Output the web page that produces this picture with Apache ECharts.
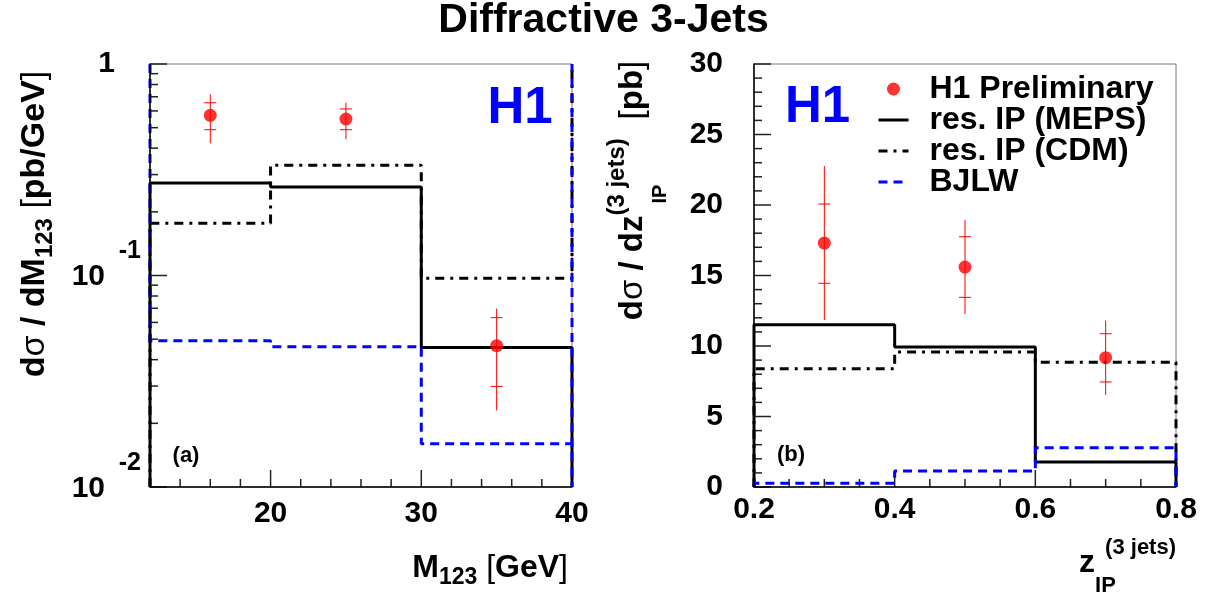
<!DOCTYPE html>
<html>
<head>
<meta charset="utf-8">
<script src="https://cdn.jsdelivr.net/npm/echarts@6/dist/echarts.min.js"></script>
<style>
html,body{margin:0;padding:0;background:#fff;}
#chart{width:1207px;height:601px;}
</style>
</head>
<body>
<div id="chart"></div>
<script>
// ---------------- data: panel (a) M123 ----------------
const mEdges = [12, 20, 30, 40];
const mMEPS = [0.274, 0.262, 0.0457];
const mCDM = [0.1765, 0.332, 0.097];
const mBJLW = [0.0492, 0.0461, 0.016];
const mX = [16, 25, 35];
const mVal = [0.572, 0.5495, 0.0466];
const mStatLo = [0.489, 0.489, 0.0299];
const mStatHi = [0.656, 0.613, 0.0632];
const mTotLo = [0.422, 0.4406, 0.0230];
const mTotHi = [0.719, 0.656, 0.0697];
// tick values, panel (a)
const mXMajor = [20, 30, 40];
const mXMinor = [14, 16, 18, 22, 24, 26, 28, 32, 34, 36, 38];
const mYMajor = [0.01, 0.1, 1];
const mYMinor = [0.02, 0.03, 0.04, 0.05, 0.06, 0.07, 0.08, 0.09, 0.2, 0.3, 0.4, 0.5, 0.6, 0.7, 0.8, 0.9];

// ---------------- data: panel (b) zIP ----------------
const zEdges = [0.2, 0.4, 0.6, 0.8];
const zMEPS = [11.51, 9.93, 1.77];
const zCDM = [8.39, 9.57, 8.84];
const zBJLW = [0.26, 1.13, 2.79];
const zX = [0.3, 0.5, 0.7];
const zVal = [17.3, 15.6, 9.17];
const zStatLo = [14.45, 13.45, 7.45];
const zStatHi = [20.07, 17.75, 10.87];
const zTotLo = [11.84, 12.25, 6.52];
const zTotHi = [22.77, 18.94, 11.8];
// tick values, panel (b)
const zXMajor = [0.2, 0.4, 0.6, 0.8];
const zXMinor = [0.25, 0.3, 0.35, 0.45, 0.5, 0.55, 0.65, 0.7, 0.75];
const zYMajor = [0, 5, 10, 15, 20, 25, 30];
const zYMinor = [1, 2, 3, 4, 6, 7, 8, 9, 11, 12, 13, 14, 16, 17, 18, 19, 21, 22, 23, 24, 26, 27, 28, 29];

const names = ['H1 Preliminary', 'res. IP (MEPS)', 'res. IP (CDM)', 'BJLW'];

const F = "'Liberation Sans', Arial, Helvetica, sans-serif";
const RED = '#ff0000', BLUE = '#0000ff', BLACK = '#000000';

function hist(edges, vals, start, ends) {
  const d = [[edges[0], start]];
  for (let i = 0; i < vals.length; i++) {
    d.push([edges[i], vals[i]]);
    d.push([edges[i + 1], vals[i]]);
  }
  ends.forEach(e => d.push([edges[edges.length - 1], e]));
  return d;
}
function errData(x, lo, hi, slo, shi) {
  return x.map((v, i) => [v, lo[i], hi[i], slo[i], shi[i]]);
}
function renderErr(params, api) {
  const x = api.value(0);
  const a = api.coord([x, api.value(1)]);
  const b = api.coord([x, api.value(2)]);
  const s1 = api.coord([x, api.value(3)]);
  const s2 = api.coord([x, api.value(4)]);
  const hw = 6;
  const st = {stroke: RED, lineWidth: 1};
  return {type: 'group', children: [
    {type: 'line', shape: {x1: a[0], y1: a[1], x2: b[0], y2: b[1]}, style: st},
    {type: 'line', shape: {x1: s1[0] - hw, y1: s1[1], x2: s1[0] + hw, y2: s1[1]}, style: st},
    {type: 'line', shape: {x1: s2[0] - hw, y1: s2[1], x2: s2[0] + hw, y2: s2[1]}, style: st}
  ]};
}
// tick marks drawn through the axes' scales: [xValue, yValue, length, kind(0 = x axis, 1 = y axis)]
function tickData(xMajor, xMinor, yMajor, yMinor, xMin, yMin) {
  const d = [];
  xMajor.forEach(v => d.push([v, yMin, 17, 0]));
  xMinor.forEach(v => d.push([v, yMin, 8, 0]));
  yMajor.forEach(v => d.push([xMin, v, 17, 1]));
  yMinor.forEach(v => d.push([xMin, v, 8, 1]));
  return d;
}
function renderTick(params, api) {
  const p = api.coord([api.value(0), api.value(1)]);
  const len = api.value(2);
  const kind = api.value(3);
  const x = p[0], y = p[1];
  const shape = kind === 0 ? {x1: x, y1: y, x2: x, y2: y - len} : {x1: x, y1: y, x2: x + len, y2: y};
  return {type: 'line', shape: shape, style: {stroke: '#222', lineWidth: 1.5}};
}

const dashBlue = [9, 6];
const dashDot = [9, 6, 3, 6];

function tok(size, bold, extra) {
  return Object.assign({fontSize: size, fontWeight: bold ? 'bold' : 'normal', fontFamily: F, color: BLACK, align: 'left'}, extra || {});
}
const richX = {
  m: tok(32, true, {lineHeight: 32}),
  br: tok(32, false, {lineHeight: 32}),
  sub: tok(23, true, {padding: [20, 0, 0, 0]}),
  ipx: tok(22, true, {padding: [46, 0, 0, 0], width: 10}),
  sup: tok(22, true, {padding: [0, 0, 30, 0]})
};
const richYL = {
  m: tok(34, true, {lineHeight: 34}),
  g: tok(34, false, {lineHeight: 34}),
  br: tok(34, false, {lineHeight: 34}),
  sub: tok(24, true, {padding: [20, 0, 0, 0]})
};
const richYR = {
  m: tok(33, true, {lineHeight: 33}),
  g: tok(33, false, {lineHeight: 33}),
  br: tok(33, false, {lineHeight: 33}),
  supy: tok(24, true, {padding: [0, 0, 32, 0], width: 12}),
  ipy: tok(20, true, {padding: [54, 0, 0, 0], width: 75})
};

const tickLabelStyle = {fontSize: 30, fontWeight: 'bold', fontFamily: F, color: BLACK};

function lineSeries(name, xi, data, color, type, width) {
  return {
    name: name, type: 'line', xAxisIndex: xi, yAxisIndex: xi, data: data,
    symbol: 'none', showSymbol: false, clip: true, animation: false, z: 3,
    lineStyle: {color: color, width: width, type: type, cap: 'butt'},
    itemStyle: {color: color}
  };
}
const hideSym = {color: 'rgba(0,0,0,0)', borderColor: 'rgba(0,0,0,0)', borderWidth: 0};

const chart = echarts.init(document.getElementById('chart'), null, {renderer: 'canvas'});
const option = {
  animation: false,
  backgroundColor: '#ffffff',
  title: {
    text: 'Diffractive 3-Jets', left: 'center', top: 0, padding: 0,
    textStyle: {fontSize: 41, fontWeight: 'bold', fontFamily: F, color: BLACK, lineHeight: 41}
  },
  legend: {
    left: 872, top: 68, orient: 'vertical', itemWidth: 30, itemHeight: 13, itemGap: -1,
    selectedMode: false,
    lineStyle: {width: 3},
    textStyle: {fontSize: 32, fontWeight: 'bold', fontFamily: F, color: BLACK, lineHeight: 30, padding: [0, 0, 0, 16]},
    data: [
      {name: names[0]},
      {name: names[1], itemStyle: hideSym},
      {name: names[2], itemStyle: hideSym},
      {name: names[3], itemStyle: hideSym}
    ]
  },
  grid: [
    {left: 150, top: 64, width: 422, height: 423, show: true, borderColor: '#777', borderWidth: 1, backgroundColor: 'transparent'},
    {left: 754, top: 64, width: 422, height: 423, show: true, borderColor: '#777', borderWidth: 1, backgroundColor: 'transparent'}
  ],
  xAxis: [
    {
      gridIndex: 0, type: 'value', min: 12, max: 40, position: 'bottom', z: 4,
      axisLine: {show: true, lineStyle: {color: BLACK, width: 1.5}},
      axisTick: {show: false},
      axisLabel: Object.assign({show: true, customValues: mXMajor, margin: 12}, tickLabelStyle),
      splitLine: {show: false},
      name: '{m|M}{sub|123}{br| [}{m|GeV}{br|]}',
      nameLocation: 'end', nameGap: -4,
      nameTextStyle: {align: 'right', verticalAlign: 'middle', padding: [162, 0, 0, 0], rich: richX}
    },
    {
      gridIndex: 1, type: 'value', min: 0.2, max: 0.8, interval: 0.2, position: 'bottom', z: 4,
      axisLine: {show: true, lineStyle: {color: BLACK, width: 1.5}},
      axisTick: {show: false},
      axisLabel: Object.assign({show: true, margin: 8, formatter: v => v.toFixed(1)}, tickLabelStyle),
      splitLine: {show: false},
      name: '{m|z}{ipx|IP}{sup|(3 jets)}',
      nameLocation: 'end', nameGap: 0,
      nameTextStyle: {align: 'right', verticalAlign: 'middle', padding: [152, 0, 0, 0], rich: richX}
    }
  ],
  yAxis: [
    {
      gridIndex: 0, type: 'log', logBase: 10, min: 0.01, max: 1, position: 'left', z: 4,
      axisLine: {show: true, lineStyle: {color: BLACK, width: 1.5}},
      axisTick: {show: false},
      axisLabel: {
        show: true, margin: 9, showMinLabel: true, showMaxLabel: true,
        formatter: function (v) {
          if (Math.abs(v - 1) < 1e-9) return '{one|1}';
          const e = Math.round(Math.log10(v));
          return '{e|' + e + '}\n{m|10}\n{s| }';
        },
        rich: {
          one: {fontSize: 30, fontWeight: 'bold', fontFamily: F, color: BLACK, padding: [0, 26, 0, 0]},
          e: {fontSize: 25, fontWeight: 'bold', fontFamily: F, color: BLACK, lineHeight: 21},
          m: {fontSize: 30, fontWeight: 'bold', fontFamily: F, color: BLACK, lineHeight: 30, padding: [0, 36, 0, 0]},
          s: {fontSize: 10, lineHeight: 18}
        }
      },
      splitLine: {show: false},
      name: '{m|d}{g|σ}{m| / dM}{sub|123}{br| [}{m|pb/GeV}{br|]}',
      nameLocation: 'middle', nameRotate: 90, nameGap: 93,
      nameTextStyle: {padding: [0, 0, 0, 103], rich: richYL}
    },
    {
      gridIndex: 1, type: 'value', min: 0, max: 30, interval: 5, position: 'left', z: 4,
      axisLine: {show: true, lineStyle: {color: BLACK, width: 1.5}},
      axisTick: {show: false},
      axisLabel: Object.assign({show: true, margin: 31}, tickLabelStyle),
      splitLine: {show: false},
      name: '{m|d}{g|σ}{m| / dz}{supy|(3 jets)}{ipy|IP}{br| [}{m|pb}{br|]}',
      nameLocation: 'middle', nameRotate: 90, nameGap: 84,
      nameTextStyle: {padding: [0, 0, 0, 170], rich: richYR}
    }
  ],
  graphic: [
    {type: 'text', x: 520, y: 108.5, z: 10, style: {text: 'H1', fill: BLUE, font: "bold 51px 'Liberation Sans', Arial, sans-serif", align: 'center', verticalAlign: 'middle'}},
    {type: 'text', x: 817.5, y: 107.5, z: 10, style: {text: 'H1', fill: BLUE, font: "bold 51px 'Liberation Sans', Arial, sans-serif", align: 'center', verticalAlign: 'middle'}},
    {type: 'text', x: 186, y: 456, z: 10, style: {text: '(a)', fill: BLACK, font: "bold 22px 'Liberation Sans', Arial, sans-serif", align: 'center', verticalAlign: 'middle'}},
    {type: 'text', x: 791, y: 455, z: 10, style: {text: '(b)', fill: BLACK, font: "bold 22px 'Liberation Sans', Arial, sans-serif", align: 'center', verticalAlign: 'middle'}}
  ],
  series: [
    {
      type: 'custom', xAxisIndex: 0, yAxisIndex: 0, z: 2, animation: false, silent: true, clip: false,
      renderItem: renderTick, encode: {x: 0, y: 1},
      data: tickData(mXMajor, mXMinor, mYMajor, mYMinor, 12, 0.01)
    },
    lineSeries('res. IP (MEPS)', 0, hist(mEdges, mMEPS, 0.01, [0.01]), BLACK, 'solid', 3),
    lineSeries('res. IP (CDM)', 0, hist(mEdges, mCDM, 0.01, [1]), BLACK, dashDot, 3),
    lineSeries('BJLW', 0, hist(mEdges, mBJLW, 1, [0.01, 1]), BLUE, dashBlue, 3),
    {
      type: 'custom', xAxisIndex: 0, yAxisIndex: 0, z: 5, animation: false,
      renderItem: renderErr, encode: {x: 0, y: [1, 2, 3, 4]},
      data: errData(mX, mTotLo, mTotHi, mStatLo, mStatHi)
    },
    {
      name: 'H1 Preliminary', type: 'scatter', xAxisIndex: 0, yAxisIndex: 0, z: 6,
      symbol: 'circle', symbolSize: 13, itemStyle: {color: RED},
      data: mX.map((x, i) => [x, mVal[i]])
    },
    {
      type: 'custom', xAxisIndex: 1, yAxisIndex: 1, z: 2, animation: false, silent: true, clip: false,
      renderItem: renderTick, encode: {x: 0, y: 1},
      data: tickData(zXMajor, zXMinor, zYMajor, zYMinor, 0.2, 0)
    },
    lineSeries('res. IP (MEPS)', 1, hist(zEdges, zMEPS, 0, [0]), BLACK, 'solid', 3),
    lineSeries('res. IP (CDM)', 1, hist(zEdges, zCDM, 0, [0]), BLACK, dashDot, 3),
    lineSeries('BJLW', 1, hist(zEdges, zBJLW, 0, [0]), BLUE, dashBlue, 3),
    {
      type: 'custom', xAxisIndex: 1, yAxisIndex: 1, z: 5, animation: false,
      renderItem: renderErr, encode: {x: 0, y: [1, 2, 3, 4]},
      data: errData(zX, zTotLo, zTotHi, zStatLo, zStatHi)
    },
    {
      name: 'H1 Preliminary', type: 'scatter', xAxisIndex: 1, yAxisIndex: 1, z: 6,
      symbol: 'circle', symbolSize: 13, itemStyle: {color: RED},
      data: zX.map((x, i) => [x, zVal[i]])
    }
  ]
};
chart.setOption(option);
</script>
</body>
</html>
